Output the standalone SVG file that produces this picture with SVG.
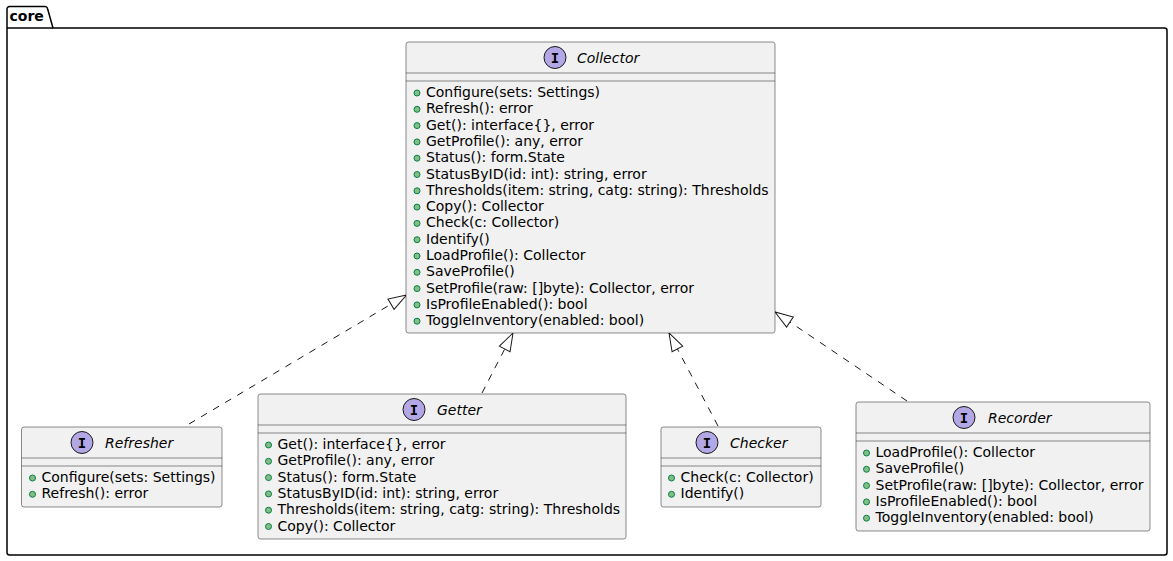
<svg xmlns="http://www.w3.org/2000/svg" width="1173" height="561" viewBox="0 0 1173 561">
<style>
.box{fill:#F1F1F1;stroke:#181818;stroke-width:0.5}
.sep{stroke:#181818;stroke-width:0.5}
.spot{fill:#B4A7E5;stroke:#181818;stroke-width:1}
.spotl{font-family:"DejaVu Sans Mono","Liberation Mono",monospace;font-weight:bold;font-size:14px;text-anchor:middle;fill:#000}
.title{font-family:"DejaVu Sans","Noto Sans",sans-serif;font-style:italic;font-size:14px;fill:#000}
.m{font-family:"DejaVu Sans","Noto Sans",sans-serif;font-size:14px;fill:#000}
.vis{fill:#84BE84;stroke:#038048;stroke-width:1}
.conn{fill:none;stroke:#181818;stroke-width:1;stroke-dasharray:7,7}
</style>
<defs>
<marker id="ext" markerUnits="userSpaceOnUse" markerWidth="24" markerHeight="16" viewBox="-20 -8 24 16" refX="0" refY="0" orient="auto">
<path d="M0,0 L-18,-6 L-18,6 Z" fill="#FFFFFF" stroke="#181818" stroke-width="1"/>
</marker>
</defs>
<g id="pkg-core">
<path d="M7,28 L7,9 A2.5,2.5 0 0 1 9.5,6.5 L45,6.5 A2.5,2.5 0 0 1 47.5,8.5 L53,28 L1164.5,28 A2.5,2.5 0 0 1 1167,30.5 L1167,552.5 A2.5,2.5 0 0 1 1164.5,555 L9.5,555 A2.5,2.5 0 0 1 7,552.5 Z" fill="none" stroke="#000000" stroke-width="1.5"/>
<line x1="7" y1="28" x2="53" y2="28" stroke="#000000" stroke-width="1.5"/>
<text x="9.5" y="21" font-family="DejaVu Sans,Noto Sans,sans-serif" font-weight="bold" font-size="14">core</text>
</g>
<g id="connectors">
<line class="conn" x1="189" y1="424" x2="406.5" y2="295" marker-end="url(#ext)"/>
<line class="conn" x1="482" y1="393" x2="513" y2="333" marker-end="url(#ext)"/>
<line class="conn" x1="718" y1="426" x2="669" y2="333" marker-end="url(#ext)"/>
<line class="conn" x1="907" y1="401" x2="775" y2="312" marker-end="url(#ext)"/>
</g>
<g id="Collector">
<rect class="box" x="406" y="42" width="369" height="291" rx="2.5"/>
<line class="sep" x1="406" y1="73" x2="775" y2="73"/>
<line class="sep" x1="406" y1="81" x2="775" y2="81"/>
<circle class="spot" cx="555" cy="57.5" r="11"/>
<text class="spotl" x="555" y="62.5">I</text>
<text class="title" x="577" y="62.5">Collector</text>
<g class="vis">
<circle cx="417" cy="93" r="3"/><circle cx="417" cy="109.3" r="3"/><circle cx="417" cy="125.6" r="3"/><circle cx="417" cy="141.9" r="3"/><circle cx="417" cy="158.2" r="3"/><circle cx="417" cy="174.5" r="3"/><circle cx="417" cy="190.8" r="3"/><circle cx="417" cy="207.1" r="3"/><circle cx="417" cy="223.4" r="3"/><circle cx="417" cy="239.7" r="3"/><circle cx="417" cy="256" r="3"/><circle cx="417" cy="272.3" r="3"/><circle cx="417" cy="288.6" r="3"/><circle cx="417" cy="304.9" r="3"/><circle cx="417" cy="321.2" r="3"/>
</g>
<text class="m" x="426" y="97">Configure(sets: Settings)</text>
<text class="m" x="426" y="113.3">Refresh(): error</text>
<text class="m" x="426" y="129.6">Get(): interface{}, error</text>
<text class="m" x="426" y="145.9">GetProfile(): any, error</text>
<text class="m" x="426" y="162.2">Status(): form.State</text>
<text class="m" x="426" y="178.5">StatusByID(id: int): string, error</text>
<text class="m" x="426" y="194.8">Thresholds(item: string, catg: string): Thresholds</text>
<text class="m" x="426" y="211.1">Copy(): Collector</text>
<text class="m" x="426" y="227.4">Check(c: Collector)</text>
<text class="m" x="426" y="243.7">Identify()</text>
<text class="m" x="426" y="260">LoadProfile(): Collector</text>
<text class="m" x="426" y="276.3">SaveProfile()</text>
<text class="m" x="426" y="292.6">SetProfile(raw: []byte): Collector, error</text>
<text class="m" x="426" y="308.9">IsProfileEnabled(): bool</text>
<text class="m" x="426" y="325.2">ToggleInventory(enabled: bool)</text>
</g>
<g id="Refresher">
<rect class="box" x="21.5" y="427" width="200.5" height="80" rx="2.5"/>
<line class="sep" x1="21.5" y1="458" x2="222" y2="458"/>
<line class="sep" x1="21.5" y1="466" x2="222" y2="466"/>
<circle class="spot" cx="82" cy="442.5" r="11"/>
<text class="spotl" x="82" y="447.5">I</text>
<text class="title" x="105" y="447.5">Refresher</text>
<circle class="vis" cx="32.5" cy="478" r="3"/>
<circle class="vis" cx="32.5" cy="494.3" r="3"/>
<text class="m" x="41.5" y="482">Configure(sets: Settings)</text>
<text class="m" x="41.5" y="498.3">Refresh(): error</text>
</g>
<g id="Getter">
<rect class="box" x="258" y="394" width="368" height="145" rx="2.5"/>
<line class="sep" x1="258" y1="425" x2="626" y2="425"/>
<line class="sep" x1="258" y1="433" x2="626" y2="433"/>
<circle class="spot" cx="414" cy="409.5" r="11"/>
<text class="spotl" x="414" y="414.5">I</text>
<text class="title" x="437" y="414.5">Getter</text>
<g class="vis">
<circle cx="268.5" cy="445" r="3"/><circle cx="268.5" cy="461.3" r="3"/><circle cx="268.5" cy="477.6" r="3"/><circle cx="268.5" cy="493.9" r="3"/><circle cx="268.5" cy="510.2" r="3"/><circle cx="268.5" cy="526.5" r="3"/>
</g>
<text class="m" x="277.5" y="449">Get(): interface{}, error</text>
<text class="m" x="277.5" y="465.3">GetProfile(): any, error</text>
<text class="m" x="277.5" y="481.6">Status(): form.State</text>
<text class="m" x="277.5" y="497.9">StatusByID(id: int): string, error</text>
<text class="m" x="277.5" y="514.2">Thresholds(item: string, catg: string): Thresholds</text>
<text class="m" x="277.5" y="530.5">Copy(): Collector</text>
</g>
<g id="Checker">
<rect class="box" x="661" y="427" width="160" height="80" rx="2.5"/>
<line class="sep" x1="661" y1="458" x2="821" y2="458"/>
<line class="sep" x1="661" y1="466" x2="821" y2="466"/>
<circle class="spot" cx="707" cy="442.5" r="11"/>
<text class="spotl" x="707" y="447.5">I</text>
<text class="title" x="730" y="447.5">Checker</text>
<circle class="vis" cx="671.5" cy="478" r="3"/>
<circle class="vis" cx="671.5" cy="494.3" r="3"/>
<text class="m" x="680.5" y="482">Check(c: Collector)</text>
<text class="m" x="680.5" y="498.3">Identify()</text>
</g>
<g id="Recorder">
<rect class="box" x="856" y="402" width="294" height="129" rx="2.5"/>
<line class="sep" x1="856" y1="433" x2="1150" y2="433"/>
<line class="sep" x1="856" y1="441" x2="1150" y2="441"/>
<circle class="spot" cx="964" cy="417.5" r="11"/>
<text class="spotl" x="964" y="422.5">I</text>
<text class="title" x="988" y="422.5">Recorder</text>
<g class="vis">
<circle cx="866.5" cy="453" r="3"/><circle cx="866.5" cy="469.3" r="3"/><circle cx="866.5" cy="485.6" r="3"/><circle cx="866.5" cy="501.9" r="3"/><circle cx="866.5" cy="518.2" r="3"/>
</g>
<text class="m" x="875.5" y="457">LoadProfile(): Collector</text>
<text class="m" x="875.5" y="473.3">SaveProfile()</text>
<text class="m" x="875.5" y="489.6">SetProfile(raw: []byte): Collector, error</text>
<text class="m" x="875.5" y="505.9">IsProfileEnabled(): bool</text>
<text class="m" x="875.5" y="522.2">ToggleInventory(enabled: bool)</text>
</g>
</svg>
